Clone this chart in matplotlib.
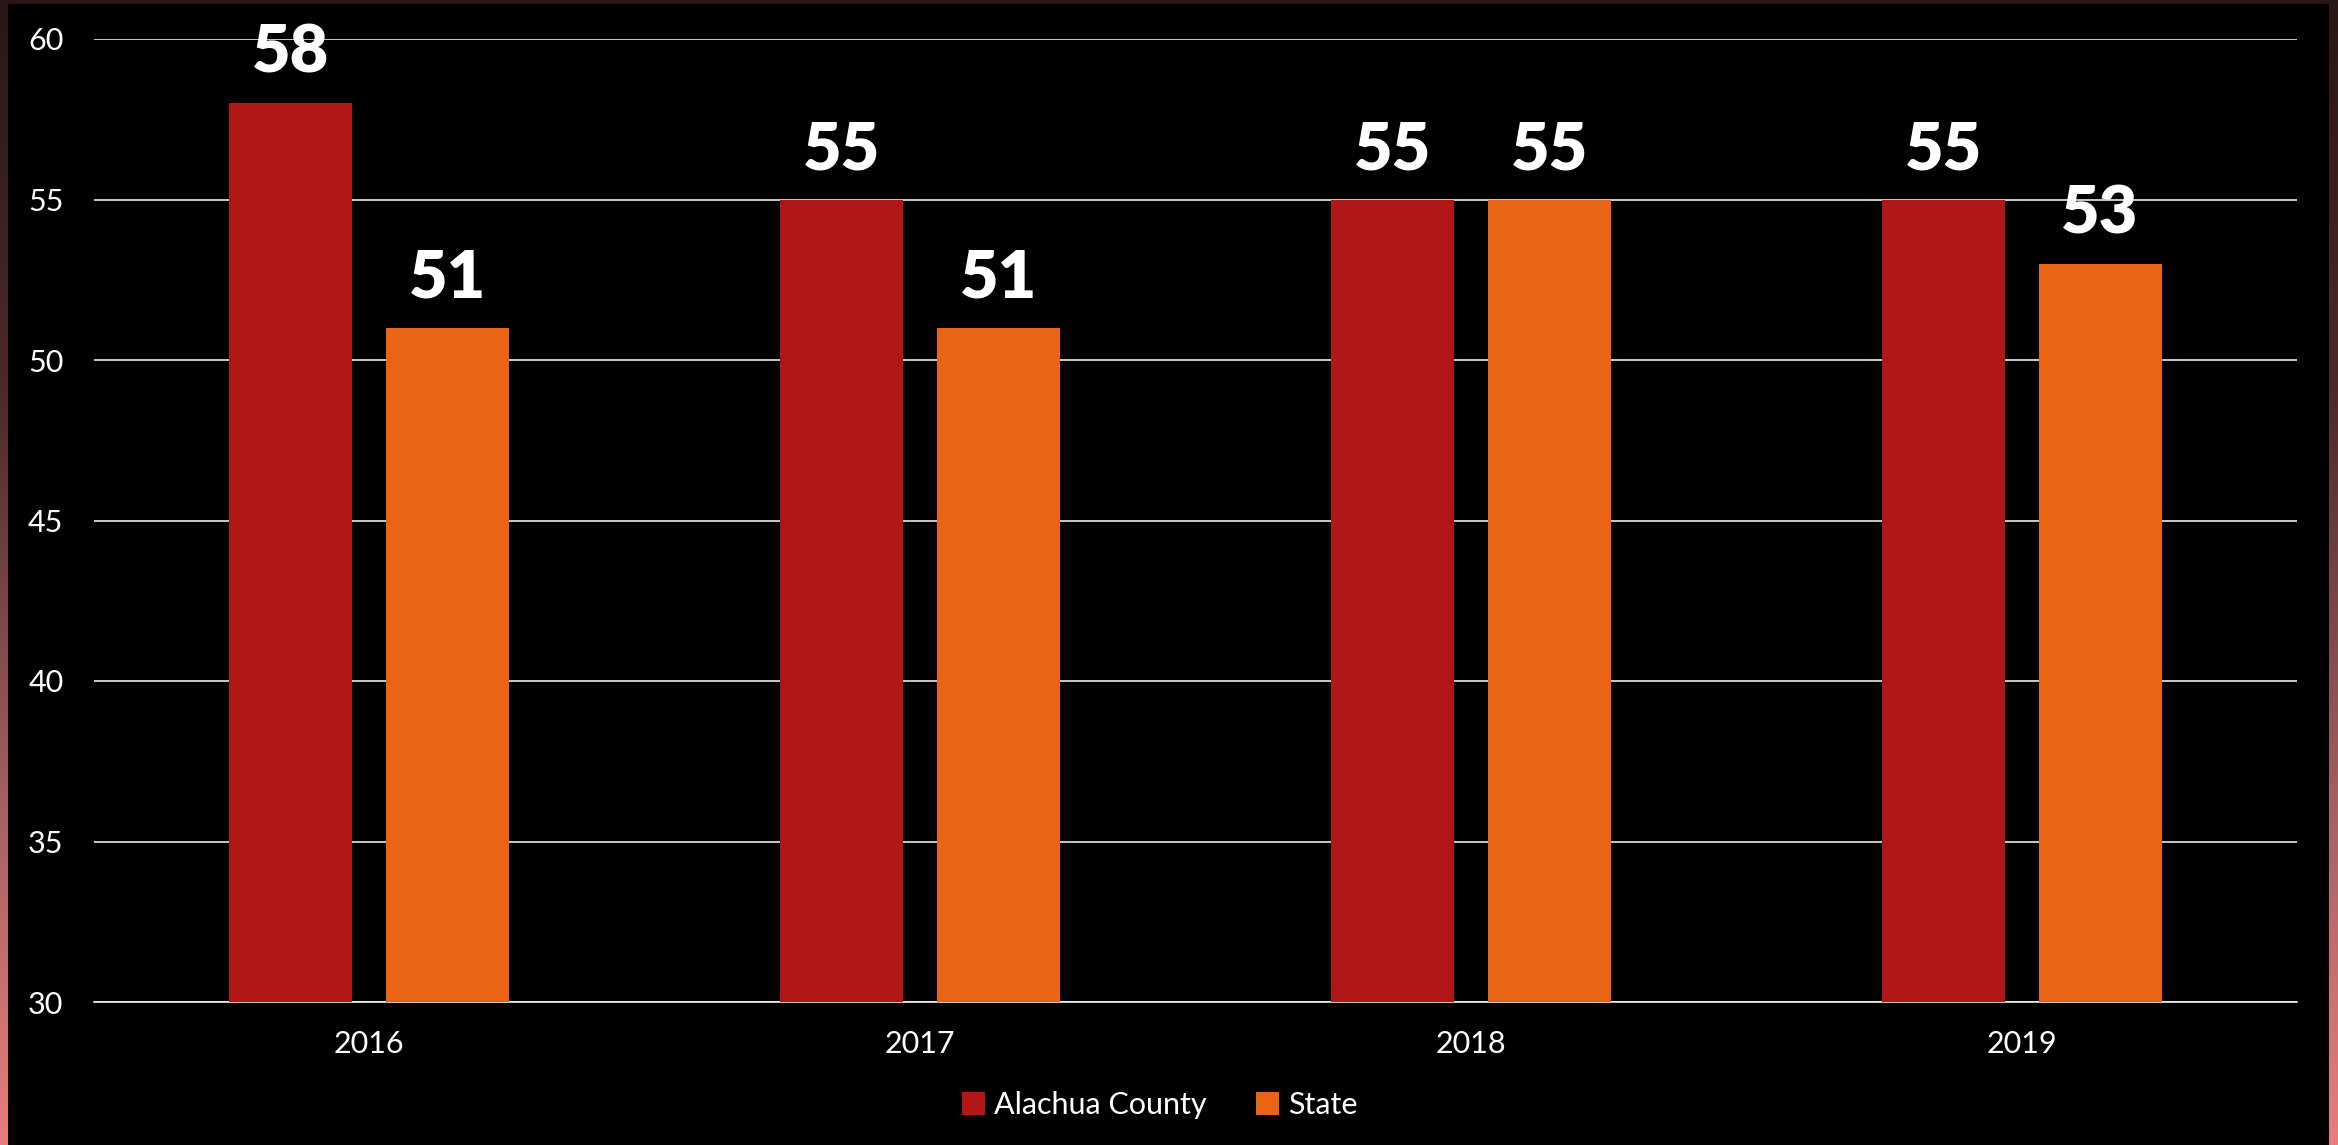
import numpy as np
import matplotlib
matplotlib.use('Agg')
import matplotlib.pyplot as plt
from matplotlib.colors import LinearSegmentedColormap
from matplotlib.patches import Rectangle

# Data
years = ['2016', '2017', '2018', '2019']
county = [58, 55, 55, 55]
state = [51, 51, 55, 53]

red = '#B01716'
orange = '#E96414'

plt.rcParams['font.family'] = ['Lato', 'DejaVu Sans']

fig = plt.figure(figsize=(23.38, 11.45), dpi=100)

# Background: gradient frame with a black panel on top
bg = fig.add_axes([0, 0, 1, 1], zorder=-10)
cmap = LinearSegmentedColormap.from_list(
    'frame', [(0, '#2a1616'), (0.35, '#4e2a2a'), (0.7, '#a46060'), (1, '#e97d7d')])
grad = np.linspace(0, 1, 256).reshape(-1, 1)
bg.imshow(grad, cmap=cmap, aspect='auto', extent=[0, 1, 0, 1], origin='upper')
bg.add_patch(Rectangle((8 / 2338, 0), (2329 - 8) / 2338, 1 - 4 / 1145,
                       facecolor='black', edgecolor='none'))
bg.set_xlim(0, 1)
bg.set_ylim(0, 1)
bg.axis('off')

ax = fig.add_axes([94 / 2338, 1 - 1002 / 1145, (2297 - 94) / 2338, (1002 - 39) / 1145])
ax.set_facecolor('black')

x = np.arange(len(years))
w = 0.223
off = 0.1425
b1 = ax.bar(x - off, np.array(county) - 30, w, bottom=30, color=red, label='Alachua County', zorder=3)
b2 = ax.bar(x + off, np.array(state) - 30, w, bottom=30, color=orange, label='State', zorder=3)

for xs, vals in [(x - off, county), (x + off, state)]:
    for xi, v in zip(xs, vals):
        ax.annotate(str(v), xy=(xi, v), xytext=(0, 14), textcoords='offset points',
                    ha='center', va='bottom', color='white', fontsize=48,
                    fontweight='heavy', zorder=5)

ax.set_xlim(-0.5, 3.5)
ax.set_ylim(30, 60)
ax.set_yticks([30, 35, 40, 45, 50, 55, 60])
ax.set_xticks(x)
ax.set_xticklabels(years)
ax.yaxis.grid(True, color='white', linewidth=1.1, zorder=1)
ax.set_axisbelow(True)
for s in ['top', 'right', 'left']:
    ax.spines[s].set_visible(False)
ax.spines['bottom'].set_color('white')
ax.spines['bottom'].set_linewidth(1.1)
ax.tick_params(axis='both', length=0, colors='white', labelsize=22)
ax.tick_params(axis='y', pad=22)
ax.tick_params(axis='x', pad=20)

fig.legend(handles=[b1, b2], loc='center', bbox_to_anchor=(1160 / 2338, 1 - 1105 / 1145),
           ncol=2, frameon=False, fontsize=22, labelcolor='white',
           handlelength=0.75, handleheight=0.75, handletextpad=0.3, columnspacing=1.6)

fig.savefig('out.png', dpi=100, facecolor='black')
